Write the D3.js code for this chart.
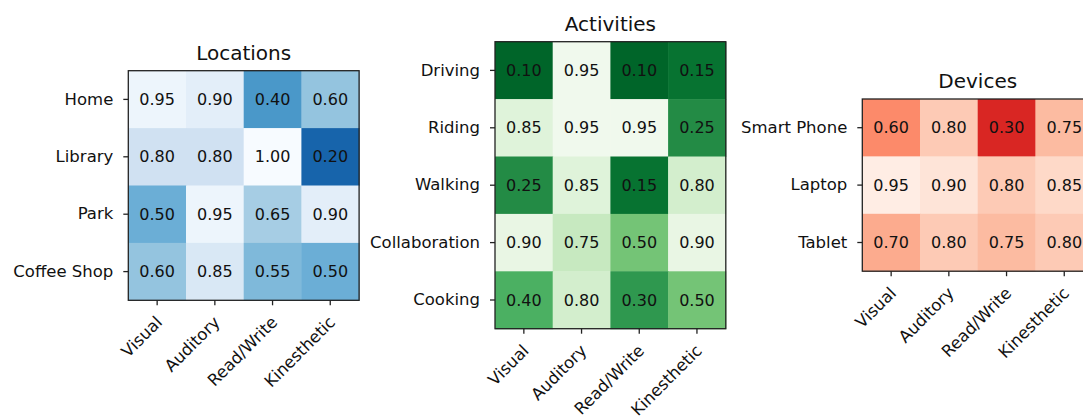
<!DOCTYPE html>
<html><head><meta charset="utf-8">
<script src="https://cdn.jsdelivr.net/npm/d3@7"></script>
<style>
html,body{margin:0;padding:0;background:#fff;}
svg{display:block;font-family:"DejaVu Sans",sans-serif;}
</style>
</head><body>
<svg id="chart" width="1083" height="419"></svg>
<script>
const styles = ["Visual", "Auditory", "Read/Write", "Kinesthetic"];

const locationTitle = "Locations";
const locations = ["Home", "Library", "Park", "Coffee Shop"];
const locationValues = [
  [0.95, 0.90, 0.40, 0.60],
  [0.80, 0.80, 1.00, 0.20],
  [0.50, 0.95, 0.65, 0.90],
  [0.60, 0.85, 0.55, 0.50]
];

const activityTitle = "Activities";
const activities = ["Driving", "Riding", "Walking", "Collaboration", "Cooking"];
const activityValues = [
  [0.10, 0.95, 0.10, 0.15],
  [0.85, 0.95, 0.95, 0.25],
  [0.25, 0.85, 0.15, 0.80],
  [0.90, 0.75, 0.50, 0.90],
  [0.40, 0.80, 0.30, 0.50]
];

const deviceTitle = "Devices";
const devices = ["Smart Phone", "Laptop", "Tablet"];
const deviceValues = [
  [0.60, 0.80, 0.30, 0.75],
  [0.95, 0.90, 0.80, 0.85],
  [0.70, 0.80, 0.75, 0.80]
];

// matplotlib-like sequential colormaps (ColorBrewer 9-class, linear)
const bluesStops = ["#f7fbff","#deebf7","#c6dbef","#9ecae1","#6baed6","#4292c6","#2171b5","#08519c","#08306b"];
const greensStops = ["#f7fcf5","#e5f5e0","#c7e9c0","#a1d99b","#74c476","#41ab5d","#238b45","#006d2c","#00441b"];
const redsStops = ["#fff5f0","#fee0d2","#fcbba1","#fc9272","#fb6a4a","#ef3b2c","#cb181d","#a50f15","#67000d"];

function reversedMap(stops) {
  const interp = d3.piecewise(d3.interpolateRgb, stops);
  return v => interp(1 - Math.max(0, Math.min(1, v)));
}

const svg = d3.select("#chart");
svg.append("rect").attr("width", 1083).attr("height", 419).attr("fill", "#fff");

const cellW = 57.7, cellH = 57.4;

function heatmap(cfg) {
  const { left, top, rows, values, title, stops } = cfg;
  const w = cellW * styles.length, h = cellH * rows.length;
  const x = d3.scaleBand().domain(styles).range([left, left + w]);
  const y = d3.scaleBand().domain(rows).range([top, top + h]);
  const color = reversedMap(stops);
  const g = svg.append("g");

  const cells = [];
  values.forEach((row, i) => row.forEach((v, j) => cells.push({ r: rows[i], c: styles[j], v })));

  g.selectAll("rect.cell").data(cells).join("rect")
    .attr("class", "cell")
    .attr("x", d => x(d.c)).attr("y", d => y(d.r))
    .attr("width", x.bandwidth() + 0.5).attr("height", y.bandwidth() + 0.5)
    .attr("fill", d => color(d.v));

  g.selectAll("text.val").data(cells).join("text")
    .attr("class", "val")
    .attr("x", d => x(d.c) + x.bandwidth() / 2)
    .attr("y", d => y(d.r) + y.bandwidth() / 2)
    .attr("text-anchor", "middle").attr("dominant-baseline", "central")
    .attr("font-size", 16).attr("fill", "#111")
    .text(d => d.v.toFixed(2));

  // frame
  g.append("rect").attr("x", left).attr("y", top).attr("width", w).attr("height", h)
    .attr("fill", "none").attr("stroke", "#222").attr("stroke-width", 1.3);

  // y axis
  const ya = g.append("g").attr("transform", `translate(${left},0)`)
    .call(d3.axisLeft(y).tickSize(5).tickPadding(10));
  ya.select(".domain").remove();
  ya.selectAll(".tick line").attr("stroke", "#222").attr("stroke-width", 1.3);
  ya.selectAll(".tick text").attr("font-size", 16.5).attr("fill", "#111")
    .attr("font-family", "DejaVu Sans, sans-serif");

  // x axis
  const xa = g.append("g").attr("transform", `translate(0,${top + h})`)
    .call(d3.axisBottom(x).tickSize(5).tickPadding(0));
  xa.select(".domain").remove();
  xa.selectAll(".tick line").attr("stroke", "#222").attr("stroke-width", 1.3);
  xa.selectAll(".tick text").attr("font-size", 16.5).attr("fill", "#111")
    .attr("font-family", "DejaVu Sans, sans-serif")
    .attr("text-anchor", "end")
    .attr("dy", null).attr("y", null)
    .attr("transform", "translate(6,23) rotate(-45)");

  // title
  g.append("text").attr("x", left + w / 2).attr("y", top - 11)
    .attr("text-anchor", "middle").attr("font-size", 20).attr("fill", "#111")
    .text(title);
}

heatmap({ left: 128.3, top: 70.7, rows: locations, values: locationValues, title: locationTitle, stops: bluesStops });
heatmap({ left: 495, top: 41.7, rows: activities, values: activityValues, title: activityTitle, stops: greensStops });
heatmap({ left: 862.3, top: 99, rows: devices, values: deviceValues, title: deviceTitle, stops: redsStops });
</script>
</body></html>
